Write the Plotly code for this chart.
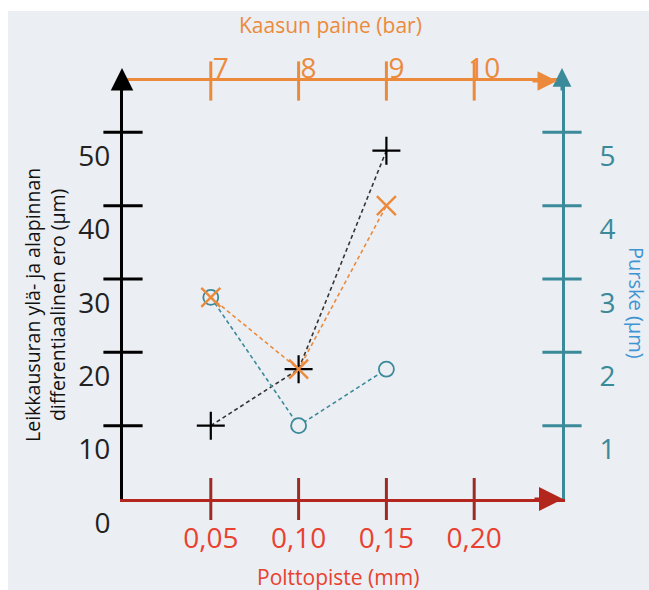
import plotly.graph_objects as go

# ---------------- data ----------------
focal_mm = [0.05, 0.10, 0.15]          # Polttopiste (mm)
pressure_bar = [7, 8, 9]               # Kaasun paine (bar)
diff_vs_focal = [10, 17.7, 47.5]       # black series, left axis (µm)
diff_vs_pressure = [27.5, 17.7, 40]    # orange series, left axis (µm)
burr_um = [2.75, 1.0, 1.77]            # teal series, right axis (µm)

x_tickvals = [0.05, 0.10, 0.15, 0.20]
x_ticktext = ["0,05", "0,10", "0,15", "0,20"]
p_tickvals = [7, 8, 9, 10]
y_tickvals = [10, 20, 30, 40, 50]
y_labelvals = [0, 10, 20, 30, 40, 50]
y2_tickvals = [1, 2, 3, 4, 5]

# ---------------- style ----------------
W, H = 649, 590
ML, MR, MT, MB = 123, 87, 81, 91
PW, PH = W - ML - MR, H - MT - MB
BG = "#EBEEF2"
BLACK = "#000000"
ORANGE = "#EC8A3C"
RED_LINE = "#B3261E"
RED_TICK = "#9E2A25"
RED_TEXT = "#E8412F"
TEAL = "#3B8A9A"
BLUE_TITLE = "#3F94D4"
FONT = "Open Sans"
TICKFONT = 28

YR = [0, 57.0]
Y2R = [0, 5.70]
XR = [0, 0.25]
PR = [6, 11]


def px_x(px):
    return (px - ML) / PW


def px_y(py):
    return (H - MB - py) / PH


fig = go.Figure()


# tick marks crossing the axis lines (drawn on the axes' own scales)
def tick_marks(xs, ys, xa, ya, symbol, size, color):
    fig.add_trace(go.Scatter(
        x=xs, y=ys, xaxis=xa, yaxis=ya, mode="markers",
        marker=dict(symbol=symbol, size=size, color=color, line=dict(width=3, color=color)),
        hoverinfo="skip", showlegend=False, cliponaxis=False))


tick_marks([XR[0]] * len(y_tickvals), y_tickvals, "x", "y", "line-ew", 28, BLACK)
tick_marks([XR[1]] * len(y2_tickvals), y2_tickvals, "x", "y2", "line-ew", 28, TEAL)
tick_marks(x_tickvals, [YR[0]] * len(x_tickvals), "x", "y", "line-ns", 30, RED_TICK)
tick_marks(p_tickvals, [YR[1]] * len(p_tickvals), "x3", "y", "line-ns", 28, ORANGE)

# data series
fig.add_trace(go.Scatter(
    x=focal_mm, y=burr_um, xaxis="x", yaxis="y2", mode="lines+markers",
    line=dict(color=TEAL, width=1.6, dash="4px,3px"),
    marker=dict(symbol="circle", size=15, color=BG, line=dict(width=1.8, color=TEAL)),
    showlegend=False, cliponaxis=False))
fig.add_trace(go.Scatter(
    x=pressure_bar, y=diff_vs_pressure, xaxis="x3", yaxis="y", mode="lines+markers",
    line=dict(color=ORANGE, width=1.6, dash="4px,3px"),
    marker=dict(symbol="x-thin", size=19, color=ORANGE, line=dict(width=2.4, color=ORANGE)),
    showlegend=False, cliponaxis=False))
fig.add_trace(go.Scatter(
    x=focal_mm, y=diff_vs_focal, xaxis="x", yaxis="y", mode="lines+markers",
    line=dict(color="#333333", width=1.6, dash="4px,3px"),
    marker=dict(symbol="cross-thin", size=20, color=BLACK, line=dict(width=2.2, color=BLACK)),
    showlegend=False, cliponaxis=False))

common = dict(showgrid=False, zeroline=False, fixedrange=True, ticks="", tickmode="array")

fig.update_layout(
    width=W, height=H, autosize=False,
    margin=dict(l=ML, r=MR, t=MT, b=MB, pad=0),
    paper_bgcolor="white", plot_bgcolor=BG,
    font=dict(family=FONT),
    xaxis=dict(range=XR, anchor="y", side="bottom", showline=True, linecolor=RED_LINE, linewidth=3,
               tickvals=x_tickvals, ticktext=x_ticktext,
               tickfont=dict(size=TICKFONT, color=RED_TEXT, family=FONT),
               ticklabelstandoff=12, **common),
    xaxis3=dict(range=PR, overlaying="x", anchor="y", side="top", showline=True, linecolor=ORANGE, linewidth=3,
                tickvals=p_tickvals,
                tickfont=dict(size=TICKFONT, color=ORANGE, family=FONT),
                ticklabelshift=10, ticklabelstandoff=-11, **common),
    yaxis=dict(range=YR, anchor="x", side="left", showline=True, linecolor=BLACK, linewidth=3,
               tickvals=y_labelvals,
               tickfont=dict(size=TICKFONT, color="#222222", family=FONT),
               ticklabelshift=24, ticklabelstandoff=4, **common),
    yaxis2=dict(range=Y2R, overlaying="y", anchor="x", side="right", showline=True, linecolor=TEAL, linewidth=3,
                tickvals=y2_tickvals,
                tickfont=dict(size=TICKFONT, color=TEAL, family=FONT),
                ticklabelshift=24, ticklabelstandoff=29, **common),
)

# grey panel behind the whole diagram
fig.add_shape(type="rect", xref="paper", yref="paper", layer="below",
              x0=px_x(8), x1=px_x(W + 5), y0=px_y(H + 5), y1=px_y(11),
              fillcolor=BG, line=dict(width=0))


# axis arrow heads
def arrow(x, y, ax, ay, color, size, xshift=0, yshift=0):
    fig.add_annotation(xref="paper", yref="paper", x=x, y=y, ax=ax, ay=ay,
                       axref="pixel", ayref="pixel", text="", showarrow=True,
                       arrowhead=2, arrowsize=size, arrowwidth=3, arrowcolor=color,
                       xshift=xshift, yshift=yshift)


arrow(0, 1, 0, 24, BLACK, 1.5, xshift=-1, yshift=13)
arrow(1, 1, 0, 24, TEAL, 1.25, xshift=0, yshift=13)
arrow(1, 1, -26, 0, ORANGE, 1.3, xshift=-5)
arrow(1, 0, -30, 0, RED_LINE, 1.6, xshift=1)


# axis titles
def title(px, py, text, color, size, angle=0):
    fig.add_annotation(xref="paper", yref="paper", x=px_x(px), y=px_y(py), text=text,
                       xanchor="center", yanchor="middle", textangle=angle, showarrow=False,
                       font=dict(size=size, color=color, family=FONT))


title(330, 25, "Kaasun paine (bar)", ORANGE, 21)
title(338, 577, "Polttopiste (mm)", RED_TEXT, 21)
title(45, 305, "Leikkausuran ylä- ja alapinnan<br>differentiaalinen ero (µm)", "#111111", 19.5, -90)
title(637, 303, "Purske (µm)", BLUE_TITLE, 20, 90)

fig.write_html("out.html")
